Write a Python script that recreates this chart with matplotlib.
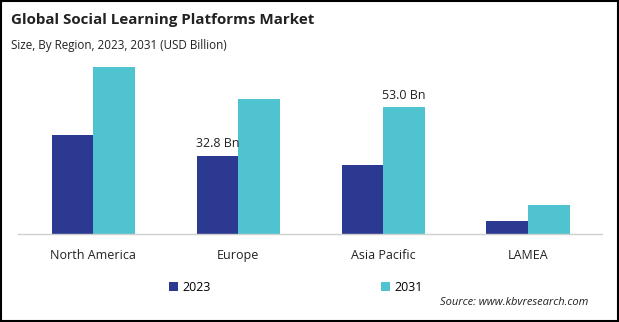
import matplotlib.pyplot as plt
import numpy as np
from matplotlib.patches import Rectangle

# Data
regions = ['North America', 'Europe', 'Asia Pacific', 'LAMEA']
years = ['2023', '2031']
values_2023 = [41.4, 32.8, 28.9, 5.4]
values_2031 = [69.9, 56.5, 53.0, 12.1]

# bars that carry a value label: (series, region index)
labelled = [('2023', 1), ('2031', 2)]

color_2023 = '#2B3990'
color_2031 = '#4FC3CF'

plt.rcParams['font.family'] = ['Open Sans', 'DejaVu Sans']

fig = plt.figure(figsize=(6.19, 3.22), dpi=100, facecolor='white')
ax = fig.add_axes([0.029, 0.2733, 0.9435, 0.5714])

x = np.arange(len(regions))
width = 0.287

bars_a = ax.bar(x - width / 2, values_2023, width, color=color_2023, label=years[0])
bars_b = ax.bar(x + width / 2, values_2031, width, color=color_2031, label=years[1])

bar_sets = {'2023': bars_a, '2031': bars_b}
for series, idx in labelled:
    bar = bar_sets[series][idx]
    ax.annotate(f'{bar.get_height():.1f} Bn',
                (bar.get_x() + bar.get_width() / 2, bar.get_height()),
                xytext=(0, 4), textcoords='offset points',
                ha='center', va='bottom', fontsize=9, color='#222222')

ax.set_xlim(-0.52, 3.51)
ax.set_ylim(0, 77)
ax.set_xticks(x)
ax.set_xticklabels(regions, fontsize=9, color='#222222')
ax.tick_params(axis='x', length=0, pad=10.5)
ax.set_yticks([])

for side in ['top', 'right', 'left']:
    ax.spines[side].set_visible(False)
ax.spines['bottom'].set_color('#D0D0D0')
ax.spines['bottom'].set_linewidth(1)

# Title and subtitle
fig.text(0.018, 0.925, 'Global Social Learning Platforms Market', fontsize=10.9,
         fontweight='bold', color='#222222', ha='left', va='baseline')
fig.text(0.018, 0.88, 'Size, By Region, 2023, 2031 (USD Billion)', fontsize=8.4,
         color='#222222', ha='left', va='top')

# Legend
leg = fig.legend(handles=[bars_a, bars_b], labels=years, loc='center left',
                 bbox_to_anchor=(0.273, 0.108), ncol=2, frameon=False, fontsize=9,
                 handlelength=0.7, handleheight=0.7, handletextpad=0.4,
                 columnspacing=13.6, borderaxespad=0, borderpad=0)

fig.text(0.95, 0.062, 'Source: www.kbvresearch.com', fontsize=8, style='italic',
         color='#222222', ha='right', va='center')

# Thin black frame round the picture
fig.patches.append(Rectangle((0.0015, 0.003), 0.997, 0.994, transform=fig.transFigure,
                             fill=False, edgecolor='black', linewidth=1.5))

plt.savefig('out.png', dpi=100, facecolor='white')
plt.close()
